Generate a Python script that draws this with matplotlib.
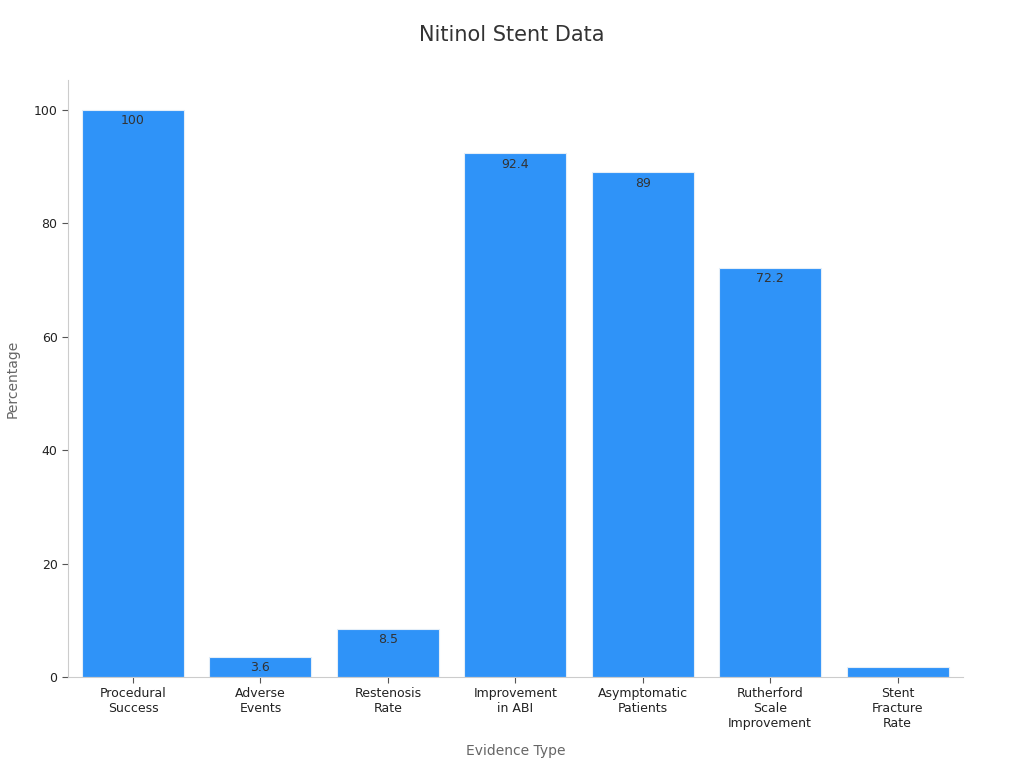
import matplotlib.pyplot as plt
import numpy as np

categories = ['Procedural\nSuccess', 'Adverse\nEvents', 'Restenosis\nRate',
              'Improvement\nin ABI', 'Asymptomatic\nPatients',
              'Rutherford\nScale\nImprovement', 'Stent\nFracture\nRate']
values = [100, 3.6, 8.5, 92.4, 89, 72.2, 1.7]
labels = ['100', '3.6', '8.5', '92.4', '89', '72.2', '1.7']

fig = plt.figure(figsize=(10.24, 7.68), dpi=100)
ax = fig.add_axes([0.0664, 0.1185, 0.8736, 0.7775])

x = np.arange(len(categories))
bars = ax.bar(x, values, width=0.8, color='#2F93F8', edgecolor='#e4eef8', linewidth=0.8)

for b, lab in zip(bars, labels):
    # labels sit inside the bar top; too small a bar just hides it
    if b.get_height() < 3:
        continue
    ax.text(b.get_x() + b.get_width() / 2, b.get_height() - 0.8, lab,
            ha='center', va='top', fontsize=9, color='#333333')

ax.set_xlim(-0.51, 6.51)
ax.set_ylim(0, 105.3)
ax.set_xticks(x)
ax.set_xticklabels(categories, fontsize=9, color='#222222')
ax.set_yticks([0, 20, 40, 60, 80, 100])
ax.tick_params(axis='y', labelsize=9, colors='#222222')
ax.tick_params(axis='both', color='#555555', length=4)

for s in ['top', 'right']:
    ax.spines[s].set_visible(False)
for s in ['left', 'bottom']:
    ax.spines[s].set_color('#cccccc')

ax.set_xlabel('Evidence Type', fontsize=10, color='#666666', labelpad=10)
ax.set_ylabel('Percentage', fontsize=10, color='#666666', labelpad=10)
fig.suptitle('Nitinol Stent Data', fontsize=15, color='#333333', y=0.968)

fig.savefig('out.png', dpi=100)
